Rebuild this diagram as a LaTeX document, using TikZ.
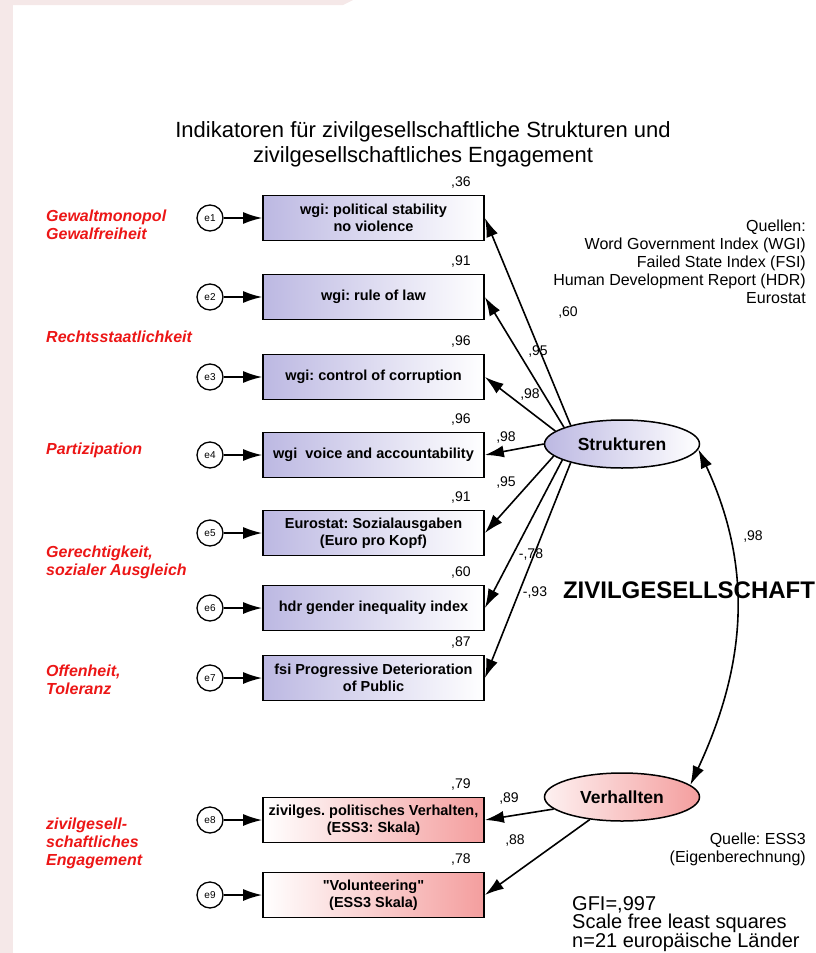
\documentclass[tikz,border=0pt]{standalone}
\usepackage{fontspec}
\setmainfont{Liberation Sans}
\newfontfamily\gerade{Liberation Sans}
\usetikzlibrary{shapes.geometric,arrows.meta}

\definecolor{lila}{RGB}{188,184,226}
\definecolor{rosa}{RGB}{244,158,158}
\definecolor{hgrund}{RGB}{245,232,232}
\definecolor{rot}{RGB}{236,22,22}
\newcommand{\schrift}[2]{\fontsize{#1}{#2}\selectfont}
\newcommand{\gz}{{\gerade\char34}}
\frenchspacing

\tikzset{
	ind/.style={draw, line width=1.8pt, minimum width=221pt, minimum height=45pt,
		inner sep=0pt, align=center, left color=lila, right color=white,
		font=\bfseries\schrift{14.5}{17}},
	indv/.style={ind, left color=white, right color=rosa},
	err/.style={circle, draw, line width=1.3pt, minimum size=26pt, inner sep=0pt,
		font=\schrift{10}{10}},
	lat/.style={ellipse, draw, line width=1.5pt, minimum width=155pt,
		minimum height=48pt, inner sep=0pt, font=\bfseries\schrift{17.5}{17.5}},
	pfeil/.style={-{Latex[length=19pt,width=12pt]}, line width=1.6pt},
	koeff/.style={inner sep=0pt, font=\schrift{14}{14}},
	dimension/.style={anchor=west, align=left, inner sep=0pt, text=rot,
		font=\bfseries\itshape\schrift{16}{18}},
	info/.style={inner sep=0pt, font=\schrift{16}{18}}
}

\begin{document}
\frenchspacing
\begin{tikzpicture}[x=1pt,y=-1pt]
	\useasboundingbox (0,0) rectangle (816,953);
	% Hintergrund
	\fill[hgrund] (0,0) rectangle (13,953);
	\fill[hgrund] (0,0) -- (353,0) -- (343,5) -- (0,5) -- cycle;

	\node[align=center, inner sep=0pt, font=\schrift{22}{25}] (titel) at (423,144)
		{Indikatoren für zivilgesellschaftliche Strukturen und\\zivilgesellschaftliches Engagement};

	% Indikatoren
	\node[ind] (b1) at (373.5,218) {wgi: political stability\\no violence};
	\node[ind] (b2) at (373.5,297) {wgi: rule of law};
	\node[ind] (b3) at (373.5,377) {wgi: control of corruption};
	\node[ind] (b4) at (373.5,455) {wgi\ \ voice and accountability};
	\node[ind] (b5) at (373.5,533) {Eurostat: Sozialausgaben\\(Euro pro Kopf)};
	\node[ind] (b6) at (373.5,608) {hdr gender inequality index};
	\node[ind] (b7) at (373.5,678) {fsi Progressive Deterioration\\of Public};
	\node[indv] (b8) at (373.5,820) {zivilges. politisches Verhalten,\\(ESS3: Skala)};
	\node[indv] (b9) at (373.5,895) {\gz Volunteering\gz\\(ESS3 Skala)};

	% Fehlerterme
	\foreach \i/\y in {1/218, 2/297, 3/377, 4/455, 5/533, 6/608, 7/678, 8/820, 9/895}
	{
		\node[err] (e\i) at (210,\y) {e\i};
		\draw[pfeil] (e\i) -- (b\i);
	}

	% quadrierte multiple Korrelationen
	\foreach \i/\r in {1/36, 2/91, 3/96, 4/96, 5/91, 6/60, 7/87, 8/79, 9/78}
		\node[koeff, anchor=south east] (r\i) at ([xshift=-14pt,yshift=6pt]b\i.north east) {,\r};

	% latente Variablen
	\node[lat, left color=lila, right color=white] (S) at (622,444) {Strukturen};
	\node[lat, left color=rosa!15, right color=rosa] (V) at (622,797) {Verhallten};

	\foreach \i/\w in {1/160, 2/164, 3/169, 4/180, 5/190, 6/195, 7/200}
		\draw[pfeil] (S.\w) -- (b\i.east);
	\draw[pfeil] (V.190) -- (b8.east);
	\draw[pfeil] (V.215) -- (b9.east);
	\draw[pfeil, {Latex[length=19pt,width=12pt]}-{Latex[length=19pt,width=12pt]}]
		(S.-4) to[out=-65, in=65] (V.10);

	% Ladungen
	\node[koeff] (l1) at (568,313) {,60};
	\node[koeff] (l2) at (538,352) {,95};
	\node[koeff] (l3) at (530,395) {,98};
	\node[koeff] (l4) at (506,438) {,98};
	\node[koeff] (l5) at (506,483) {,95};
	\node[koeff] (l6) at (531,555) {-,78};
	\node[koeff] (l7) at (535,593) {-,93};
	\node[koeff] (l8) at (509,798) {,89};
	\node[koeff] (l9) at (515,840) {,88};
	\node[koeff] (kor) at (753,537) {,98};

	\node[inner sep=0pt, font=\bfseries\schrift{24}{24}] (zg) at (689,590) {ZIVILGESELLSCHAFT};

	% Dimensionen
	\node[dimension] (d1) at (46,225) {Gewaltmonopol\\Gewalfreiheit};
	\node[dimension] (d2) at (46,337) {Rechtsstaatlichkeit};
	\node[dimension] (d3) at (46,450) {Partizipation};
	\node[dimension] (d4) at (46,562) {Gerechtigkeit,\\sozialer Ausgleich};
	\node[dimension] (d5) at (46,680) {Offenheit,\\Toleranz};
	\node[dimension] (d6) at (46,843) {zivilgesell-\\schaftliches\\Engagement};

	% Quellen
	\node[info, align=right, anchor=north east] (q1) at (806,220)
		{Quellen:\\Word Government Index (WGI)\\Failed State Index (FSI)\\Human Development Report (HDR)\\Eurostat};
	\node[info, align=right, anchor=north east] (q2) at (806,833)
		{Quelle: ESS3\\(Eigenberechnung)};
	\node[inner sep=0pt, align=left, anchor=north west, font=\schrift{20}{18.7}] (gfi) at (572,896)
		{GFI=,997\\Scale free least squares\\n=21 europäische Länder};
\end{tikzpicture}
\end{document}
